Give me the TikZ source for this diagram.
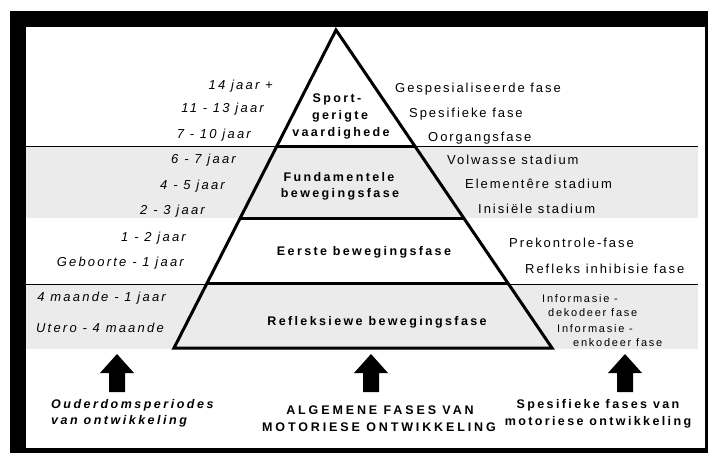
\documentclass[tikz,border=0pt]{standalone}
\usepackage{fontspec}
\usetikzlibrary{calc}
\setmainfont{Liberation Sans}
\newfontfamily\spA[LetterSpace=15]{Liberation Sans}
\newfontfamily\spI[LetterSpace=17]{Liberation Sans}
\newfontfamily\spS[LetterSpace=16]{Liberation Sans}
\newfontfamily\spB[LetterSpace=19]{Liberation Sans}
\newfontfamily\spBI[LetterSpace=20]{Liberation Sans}
\newfontfamily\spC[LetterSpace=23]{Liberation Sans}
\definecolor{bandgray}{gray}{0.92}
\begin{document}
\begin{tikzpicture}[x=1pt,y=-1pt,
  age/.style={font=\spI\fontsize{13}{15}\selectfont\itshape, anchor=mid east, inner sep=0pt},
  phase/.style={font=\spA\fontsize{13}{15}\selectfont, anchor=mid west, inner sep=0pt},
  small/.style={font=\spS\fontsize{11}{13}\selectfont, anchor=mid west, inner sep=0pt},
  tier/.style={font=\spB\fontsize{12.5}{15}\selectfont\bfseries, anchor=mid, inner sep=0pt},
  capl/.style={font=\spBI\fontsize{12.5}{15}\selectfont\bfseries\itshape, anchor=mid west, inner sep=0pt},
  capm/.style={font=\spC\fontsize{12.5}{15}\selectfont\bfseries, anchor=mid, inner sep=0pt},
  capr/.style={font=\spB\fontsize{12.5}{15}\selectfont\bfseries, anchor=mid, inner sep=0pt},
  pyr/.style={line width=3pt, line join=miter, line cap=butt},
  bandline/.style={line width=0.9pt},
  bigarrow/.style={fill=black}
]
\useasboundingbox (0,0) rectangle (708,453);
% frame
\fill[black] (10,11) rectangle (708,453);
\fill[white] (26,27) rectangle (705,448);
% shaded bands
\fill[bandgray] (26,146) rectangle (698,218);
\fill[bandgray] (26,284) rectangle (698,349);
\draw[bandline] (26,146) -- (698,146);
\draw[bandline] (26,284) -- (698,284);
% pyramid
\coordinate (apex) at (336,30);
\coordinate (bl) at (174,348);
\coordinate (br) at (552,348);
\coordinate (l1) at ($(apex)!0.3648!(bl)$);
\coordinate (r1) at ($(apex)!0.3648!(br)$);
\coordinate (l2) at ($(apex)!0.5912!(bl)$);
\coordinate (r2) at ($(apex)!0.5912!(br)$);
\coordinate (l3) at ($(apex)!0.7987!(bl)$);
\coordinate (r3) at ($(apex)!0.7987!(br)$);
\draw[pyr] (apex) -- (bl) -- (br) -- cycle;
\draw[pyr] (l1) -- (r1);
\draw[pyr] (l2) -- (r2);
\draw[pyr] (l3) -- (r3);
% tier labels
\node[tier] (t1a) at (337,100.3) {Sport-};
\node[tier] (t1b) at (340,116.7) {gerigte};
\node[tier] (t1c) at (341,133.7) {vaardighede};
\node[tier] (t2a) at (339,179) {Fundamentele};
\node[tier] (t2b) at (340,195) {bewegingsfase};
\node[tier] (t3) at (364,252.7) {Eerste bewegingsfase};
\node[tier] (t4) at (377,322.7) {Refleksiewe bewegingsfase};
% ages
\node[age] (a1) at (273,86.7) {14 jaar +};
\node[age] (a2) at (264,110) {11 - 13 jaar};
\node[age] (a3) at (251,136) {7 - 10 jaar};
\node[age] (a4) at (236,161) {6 - 7 jaar};
\node[age] (a5) at (225,187) {4 - 5 jaar};
\node[age] (a6) at (205,212) {2 - 3 jaar};
\node[age] (a7) at (186,239) {1 - 2 jaar};
\node[age] (a8) at (184,264) {Geboorte - 1 jaar};
\node[age] (a9) at (166,299) {4 maande - 1 jaar};
\node[age] (a10) at (164,330) {Utero - 4 maande};
% specific phases
\node[phase] (p1) at (395,90) {Gespesialiseerde fase};
\node[phase] (p2) at (409,115) {Spesifieke fase};
\node[phase] (p3) at (428,139) {Oorgangsfase};
\node[phase] (p4) at (447,162) {Volwasse stadium};
\node[phase] (p5) at (465,186) {Elementêre stadium};
\node[phase] (p6) at (478,211) {Inisiële stadium};
\node[phase] (p7) at (509,245) {Prekontrole-fase};
\node[phase] (p8) at (525,271) {Refleks inhibisie fase};
\node[small] (p9a) at (542,300) {Informasie -};
\node[small] (p9b) at (548,314) {dekodeer fase};
\node[small] (p10a) at (557,330) {Informasie -};
\node[small] (p10b) at (573,344) {enkodeer fase};
% arrows
\foreach \ax in {117, 371, 625}{
  \fill[bigarrow] (\ax-8,392) -- (\ax-8,373) -- (\ax-17,373) -- (\ax,354)
     -- (\ax+17,373) -- (\ax+8,373) -- (\ax+8,392) -- cycle;
}
% bottom captions
\node[capl] (c1a) at (51,406) {Ouderdomsperiodes};
\node[capl] (c1b) at (51,422) {van ontwikkeling};
\node[capm] (c2a) at (380,412) {ALGEMENE FASES VAN};
\node[capm] (c2b) at (379,429) {MOTORIESE ONTWIKKELING};
\node[capr] (c3a) at (598,406) {Spesifieke fases van};
\node[capr] (c3b) at (598,423) {motoriese ontwikkeling};
\end{tikzpicture}
\end{document}
